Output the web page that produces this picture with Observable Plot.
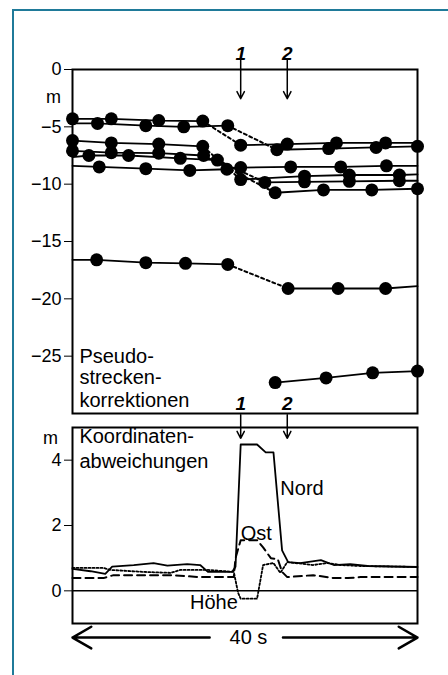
<!DOCTYPE html>
<html><head><meta charset="utf-8">
<script src="https://cdn.jsdelivr.net/npm/d3@7"></script>
<script src="https://cdn.jsdelivr.net/npm/@observablehq/plot@0.6"></script>
<style>
body{margin:0;background:#fff;}
#wrap{position:relative;width:448px;height:675px;overflow:hidden;background:#fff;}
#border{position:absolute;left:12px;top:9px;width:460px;height:700px;border-left:2.5px solid #1f7a99;border-top:2.5px solid #1f7a99;}
#top,#bottom{position:absolute;left:0;}
#top{top:0px;}
#bottom{top:400px;}
</style></head><body>
<div id="wrap"><div id="border"></div><div id="top"></div><div id="bottom"></div></div>
<script>
// ---- Pseudostreckenkorrektionen: [Zeit s, Korrektur m, Messpunkt 1/0] ----
const satA1 = [[0,-4.3,1],[4.5,-4.3,1],[10.0,-4.45,1],[15.1,-4.5,1]];
const satB1 = [[0,-4.7,0],[2.9,-4.7,1],[8.5,-4.9,1],[12.9,-5.0,1],[18.0,-4.9,1]];
const satC1 = [[0,-6.2,1],[4.5,-6.4,1],[10.0,-6.5,1],[15.1,-6.7,1]];
const satD1 = [[0,-7.1,1],[4.5,-7.25,1],[10.0,-7.3,1],[15.2,-7.5,1]];
const satE1 = [[0,-7.65,0],[1.9,-7.5,1],[6.5,-7.5,1],[12.5,-7.75,1],[16.8,-7.9,1]];
const satF  = [[0,-8.4,0],[3.1,-8.5,1],[8.5,-8.65,1],[13.6,-8.8,1],[17.9,-8.7,1],[19.5,-8.55,1],[25.3,-8.5,1],[31.1,-8.5,1],[36.4,-8.4,1],[40,-8.4,0]];
const satG1 = [[0,-16.6,0],[2.8,-16.6,1],[8.5,-16.85,1],[13.1,-16.9,1],[18.0,-17.0,1]];
const satA2 = [[19.5,-6.6,1],[24.9,-6.5,1],[30.6,-6.4,1],[36.3,-6.4,1],[40,-6.4,0]];
const satB2 = [[23.7,-7.0,1],[29.7,-6.9,1],[35.2,-6.8,1],[40,-6.7,1]];
const satC2 = [[19.5,-9.6,1],[26.9,-9.3,1],[32.1,-9.2,1],[37.9,-9.2,1],[40,-9.15,0]];
const satE2 = [[22.3,-9.85,1],[26.9,-9.8,1],[32.1,-9.75,1],[37.9,-9.7,1],[40,-9.7,0]];
const satD2 = [[23.5,-10.75,1],[29.1,-10.5,1],[34.7,-10.5,1],[40,-10.4,1]];
const satG2 = [[25.0,-19.1,1],[30.8,-19.1,1],[36.3,-19.1,1],[40,-18.9,0]];
const satH  = [[23.5,-27.3,1],[29.4,-26.9,1],[34.8,-26.45,1],[40,-26.3,1]];
const jumps = [["A1","A2"],["B1","B2"],["C1","C2"],["D1","D2"],["E1","E2"],["G1","G2"]];
const topTicks = [0,-5,-10,-15,-20,-25];
const topLabelLines = ["Pseudo-","strecken-","korrektionen"];

// ---- Koordinatenabweichungen: [Zeit s, Abweichung m] ----
const nord = [[0,0.67],[2.1,0.6],[3.8,0.52],[4.6,0.74],[7.1,0.79],[9.4,0.85],[11.0,0.77],[13.3,0.82],[14.8,0.79],[15.7,0.58],[18.5,0.58],[18.9,0.74],[19.5,4.48],[21.4,4.48],[22.4,4.24],[23.3,4.24],[24.3,1.24],[25.0,0.88],[26.4,0.85],[28.8,0.94],[30.3,0.79],[32.2,0.82],[34.2,0.76],[40,0.73]];
const ost = [[0,0.39],[3.6,0.39],[4.75,0.48],[11.4,0.48],[14.8,0.42],[18.7,0.42],[18.9,1.0],[19.5,1.55],[21.4,1.55],[22.1,1.33],[23.0,1.0],[23.8,0.97],[24.3,0.58],[24.9,0.42],[27.9,0.48],[30.3,0.39],[31.9,0.39],[33.4,0.42],[40,0.42]];
const hoehe = [[0,0.7],[3.6,0.7],[4.4,0.64],[8.2,0.58],[11.4,0.55],[12.5,0.64],[15.7,0.64],[18.7,0.58],[19.2,-0.06],[19.5,-0.24],[21.4,-0.24],[22.1,0.79],[23.3,0.85],[24.1,0.55],[24.9,0.88],[27.9,0.79],[29.6,0.85],[31.1,0.79],[33.4,0.76],[40,0.73]];
const bottomTicks = [0,2,4];
const bottomLabelLines = ["Koordinaten-","abweichungen"];
const seriesNames = ["Nord","Ost","Höhe"];

// ---- Ereignisse ----
const eventLabels = ["1","2"];
const eventT = [19.5, 24.9];
const spanLabel = "40 s";
const timeDomain = [0, 40];

const font = "'Liberation Sans', Arial, Helvetica, sans-serif";
const sats = {A1:satA1,B1:satB1,C1:satC1,D1:satD1,E1:satE1,F:satF,G1:satG1,A2:satA2,B2:satB2,C2:satC2,E2:satE2,D2:satD2,G2:satG2,H:satH};
const rows = Object.entries(sats).flatMap(([id, pts]) => pts.map(([t,v,m]) => ({id,t,v,m})));
const dashRows = jumps.flatMap(([a,b], i) => {
  const p = sats[a][sats[a].length-1], q = sats[b][0];
  return [{id:i,t:p[0],v:p[1]},{id:i,t:q[0],v:q[1]}];
});
const events = eventT.map((t,i) => ({t, label: eventLabels[i]}));
const style = {background:"transparent", fontFamily:font, fontSize:"18px", color:"black", overflow:"visible"};

const topPlot = Plot.plot({
  width:448, height:414,
  marginLeft:72, marginRight:31, marginTop:69, marginBottom:1,
  style,
  x:{domain:timeDomain, axis:null},
  y:{domain:[-30,0], ticks:topTicks, tickSize:8, tickPadding:3, label:null},
  marks:[
    Plot.line(dashRows, {x:"t", y:"v", z:"id", stroke:"black", strokeWidth:2, strokeDasharray:"3,3"}),
    Plot.line(rows, {x:"t", y:"v", z:"id", stroke:"black", strokeWidth:1.8}),
    Plot.dot(rows.filter(d => d.m), {x:"t", y:"v", r:6.5, fill:"black"}),
    Plot.frame({stroke:"black", strokeWidth:2}),
    Plot.text(["m"], {x:0, y:-2.45, dx:-19, text:d=>d, fontSize:18, textAnchor:"middle"}),
    Plot.text(topLabelLines, {x:0.8, y:[-25.0,-26.9,-28.9], text:d=>d, fontSize:20, textAnchor:"start"}),
    Plot.text(events, {x:"t", y:1.4, text:"label", fontSize:19, fontWeight:"bold", fontStyle:"italic"}),
    Plot.arrow(events, {x1:"t", x2:"t", y1:0.8, y2:-2.55, stroke:"black", strokeWidth:1.5, headLength:8, headAngle:55}),
    Plot.text(events, {x:"t", y:-29.15, text:"label", fontSize:19, fontWeight:"bold", fontStyle:"italic"})
  ]
});
document.getElementById("top").append(topPlot);

const bottomPlot = Plot.plot({
  width:448, height:275,
  marginLeft:72, marginRight:31, marginTop:27, marginBottom:52,
  style,
  x:{domain:timeDomain, axis:null},
  y:{domain:[-1,5], ticks:bottomTicks, tickFormat:d3.format("d"), tickSize:8, tickPadding:3, label:null},
  marks:[
    Plot.ruleY([0], {stroke:"black", strokeWidth:1.5}),
    Plot.line(hoehe, {x:d=>d[0], y:d=>d[1], stroke:"black", strokeWidth:1.8, strokeDasharray:"2,2"}),
    Plot.line(ost, {x:d=>d[0], y:d=>d[1], stroke:"black", strokeWidth:2, strokeDasharray:"8,5"}),
    Plot.line(nord, {x:d=>d[0], y:d=>d[1], stroke:"black", strokeWidth:1.8}),
    Plot.frame({stroke:"black", strokeWidth:2}),
    Plot.text(["m"], {x:0, y:4.68, dx:-22, text:d=>d, fontSize:18, textAnchor:"middle"}),
    Plot.text(bottomLabelLines, {x:0.8, y:[4.73,3.97], text:d=>d, fontSize:20, textAnchor:"start"}),
    Plot.text([seriesNames[0]], {x:24.1, y:3.12, text:d=>d, fontSize:20, textAnchor:"start"}),
    Plot.text(seriesNames.slice(1), {x:[21.3,16.4], y:[1.76,-0.36], text:d=>d, fontSize:20, textAnchor:"middle"}),
    Plot.arrow(events, {x1:"t", x2:"t", y1:5.39, y2:4.67, stroke:"black", strokeWidth:1.5, headLength:8, headAngle:55}),
    Plot.text([spanLabel], {x:20.4, y:-1.43, text:d=>d, fontSize:20}),
    Plot.arrow([[15.9, timeDomain[0]],[24.4, timeDomain[1]]], {x1:d=>d[0], x2:d=>d[1], y1:-1.43, y2:-1.43, stroke:"black", strokeWidth:2.5, headLength:13, headAngle:60})
  ]
});
document.getElementById("bottom").append(bottomPlot);
</script>
</body></html>
